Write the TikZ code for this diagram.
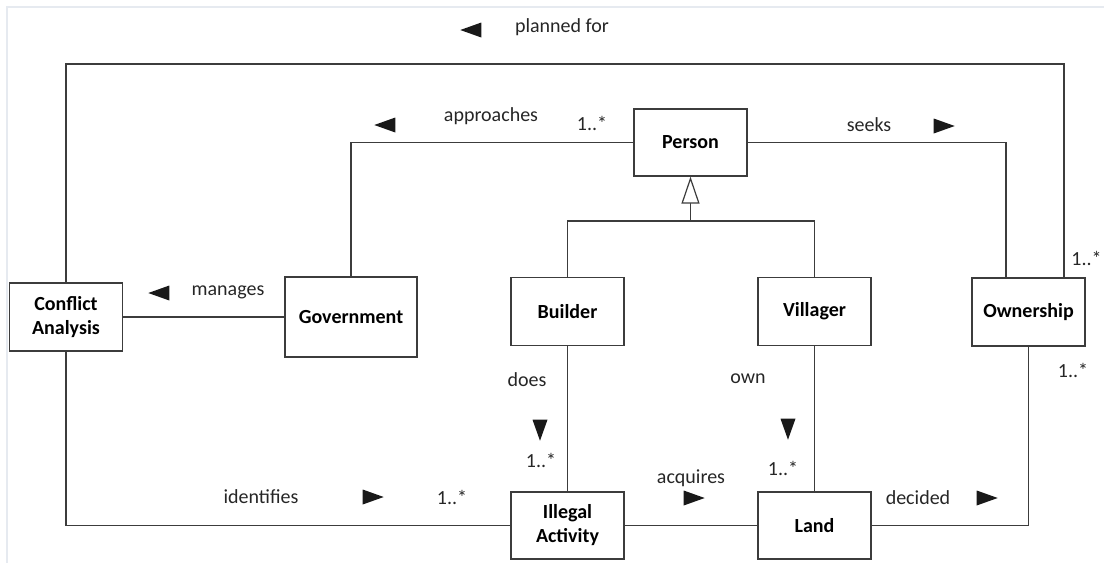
\documentclass[tikz,border=0pt]{standalone}
\usepackage{fontspec}
\setmainfont{Carlito}
\usetikzlibrary{arrows.meta,shapes.geometric}
\definecolor{linegray}{HTML}{3C3C3C}
\definecolor{framegray}{HTML}{E6EAF0}
\tikzset{
  class/.style={draw=linegray,line width=0.6pt,fill=white,rectangle,align=center,font=\bfseries,
    minimum width=56.5pt,minimum height=34pt,inner sep=1pt},
  conn/.style={draw=linegray,line width=0.6pt},
  lbl/.style={inner sep=0pt,text=black!85},
  tri/.style={isosceles triangle,isosceles triangle stretches,fill=black!90,inner sep=0pt,
    minimum width=7.5pt,minimum height=10.5pt},
  left tri/.style={tri,shape border rotate=180},
  right tri/.style={tri,shape border rotate=0},
  down tri/.style={tri,shape border rotate=270}
}

\begin{document}
\begin{tikzpicture}[x=0.5pt,y=-0.5pt,font=\fontsize{10}{12}\selectfont]
\useasboundingbox (0,0) rectangle (1104,563);
\draw[framegray,line width=1pt] (7,563) |- (1104,7);

\node[class] (ca) at (66,317) {Conflict\\Analysis};
\node[class,minimum width=66pt,minimum height=40pt] (gov) at (351,317) {Government};
\node[class,minimum height=33.5pt] (person) at (690.5,142.5) {Person};
\node[class] (builder) at (567.5,311.5) {Builder};
\node[class] (villager) at (814.5,311.5) {Villager};
\node[class] (own) at (1028.5,312) {Ownership};
\node[class,minimum height=33.5pt] (ia) at (567.5,525.5) {Illegal\\Activity};
\node[class,minimum height=33.5pt] (land) at (814.5,525.5) {Land};

\coordinate (pf) at (1064,64);
\coordinate (sk) at (1006,143);
\coordinate (gen) at (690.5,221);

\draw[conn] (ca.north) |- (pf) -- (pf |- own.north);
\draw[conn] (gov.north) |- (person.west);
\draw[conn] (person.east) -| (sk |- own.north);
\draw[conn] (ca) -- (gov);
\draw[conn] (builder.north) |- (gen) -| (villager.north);
\draw[conn,-{Triangle[open,length=13.5pt,width=9pt,fill=white]}] (gen) -- (person.south);
\draw[conn] (builder) -- (ia);
\draw[conn] (villager) -- (land);
\draw[conn] (ca.south) |- (ia.west);
\draw[conn] (ia) -- (land);
\draw[conn] (land.east) -| (own.south);

\node[left tri] (pfa) at (476,30) {};
\node[lbl] (pft) at (562,27) {planned for};
\node[left tri] (apa) at (390,125) {};
\node[lbl] (apt) at (491,116) {approaches};
\node[lbl] (apm) at (592,123) {1..*};
\node[lbl] (skt) at (869,125) {seeks};
\node[right tri] (ska) at (939,126) {};
\node[lbl,anchor=east] (pfm) at (1102,258) {1..*};
\node[left tri] (mga) at (164,293) {};
\node[lbl] (mgt) at (228,292) {manages};
\node[lbl] (dot) at (527,380) {does};
\node[down tri] (doa) at (540,425) {};
\node[lbl] (dom) at (541,460) {1..*};
\node[lbl] (owt) at (748,379) {own};
\node[down tri] (owa) at (788,424) {};
\node[lbl] (owm) at (783,468) {1..*};
\node[lbl] (idt) at (261,497) {identifies};
\node[right tri] (ida) at (368,497) {};
\node[lbl] (idm) at (452,497) {1..*};
\node[lbl] (act) at (691,478) {acquires};
\node[right tri] (aca) at (689,498) {};
\node[lbl] (det) at (918,498) {decided};
\node[right tri] (dea) at (982,498) {};
\node[lbl] (dem) at (1073,370) {1..*};
\end{tikzpicture}
\end{document}
